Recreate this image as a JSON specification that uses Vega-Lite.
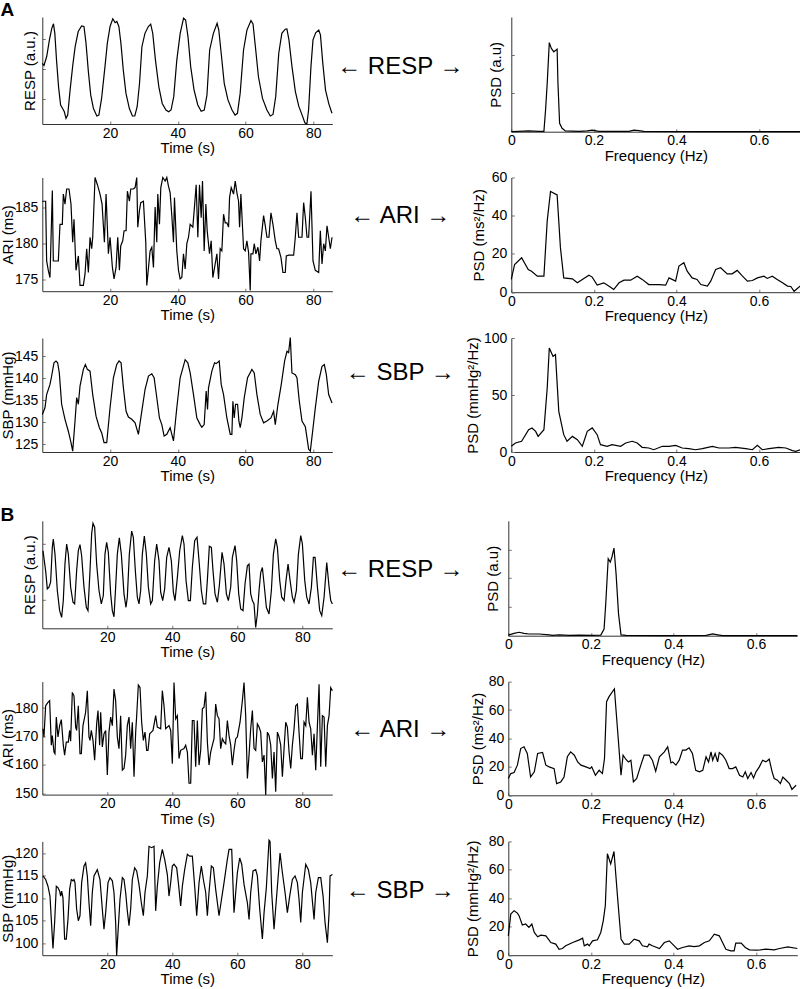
{
"$schema": "https://vega.github.io/schema/vega-lite/v6.json",
"autosize": {"type": "none"},
"padding": {"left": 42.3, "top": 17, "right": 757.7, "bottom": 972},
"config": {
 "view": {"stroke": null},
 "font": "Liberation Sans",
 "axis": {"grid": false, "domainColor": "#333", "domainWidth": 1, "tickColor": "#777", "tickSize": -3, "tickWidth": 1, "labelFontSize": 14, "labelColor": "#000", "labelFont": "Liberation Sans", "titleFont": "Liberation Sans", "titleFontSize": 15, "titleFontWeight": "normal", "titleColor": "#000", "labelFlush": false, "labelOverlap": false},
 "axisX": {"labelPadding": 5, "titlePadding": 0.5},
 "axisY": {"labelPadding": 7.5, "titlePadding": 0},
 "line": {"color": "#000", "strokeWidth": 1.2, "clip": true},
 "text": {"font": "Liberation Sans", "color": "#000"},
 "title": {"font": "Liberation Sans", "fontSize": 19, "fontWeight": "bold", "anchor": "start", "offset": -4, "color": "#000"}
},
"datasets": {
"a_resp": [{"t":0,"v":0.19},{"t":0.5,"v":0.12},{"t":1.3,"v":0.42},{"t":2.1,"v":0.98},{"t":2.8,"v":1.37},{"t":3.3,"v":1.52},{"t":3.7,"v":1.2},{"t":4.2,"v":0.3},{"t":4.8,"v":-0.6},{"t":5.4,"v":-1.21},{"t":6.0,"v":-1.33},{"t":6.5,"v":-1.44},{"t":7.0,"v":-1.66},{"t":7.5,"v":-1.55},{"t":8.2,"v":-0.71},{"t":9.0,"v":0.13},{"t":9.7,"v":0.75},{"t":10.6,"v":1.26},{"t":11.6,"v":1.45},{"t":12.3,"v":1.43},{"t":12.9,"v":0.87},{"t":13.6,"v":-0.09},{"t":14.3,"v":-0.88},{"t":15.1,"v":-1.33},{"t":16.1,"v":-1.58},{"t":16.7,"v":-1.55},{"t":17.5,"v":-0.99},{"t":18.5,"v":0.08},{"t":19.2,"v":0.87},{"t":20.0,"v":1.43},{"t":20.8,"v":1.69},{"t":21.5,"v":1.56},{"t":22.0,"v":1.6},{"t":22.6,"v":1.43},{"t":23.2,"v":0.87},{"t":23.9,"v":-0.03},{"t":24.7,"v":-0.82},{"t":25.7,"v":-1.33},{"t":26.6,"v":-1.58},{"t":27.3,"v":-1.58},{"t":28.0,"v":-1.27},{"t":28.7,"v":-0.48},{"t":29.4,"v":0.75},{"t":30.3,"v":1.2},{"t":31.3,"v":1.43},{"t":32.0,"v":1.51},{"t":32.6,"v":1.2},{"t":33.4,"v":0.3},{"t":34.4,"v":-0.6},{"t":35.4,"v":-1.16},{"t":36.5,"v":-1.38},{"t":37.3,"v":-1.44},{"t":38.0,"v":-1.38},{"t":38.8,"v":-0.93},{"t":39.7,"v":0.3},{"t":40.7,"v":1.2},{"t":41.7,"v":1.71},{"t":42.3,"v":1.65},{"t":43.0,"v":1.09},{"t":43.8,"v":0.08},{"t":44.8,"v":-0.71},{"t":45.9,"v":-1.21},{"t":46.9,"v":-1.42},{"t":47.8,"v":-1.38},{"t":48.6,"v":-0.88},{"t":49.4,"v":0.64},{"t":50.5,"v":1.2},{"t":51.6,"v":1.54},{"t":52.1,"v":1.31},{"t":52.8,"v":0.53},{"t":53.7,"v":-0.48},{"t":54.8,"v":-1.04},{"t":56.0,"v":-1.38},{"t":56.9,"v":-1.55},{"t":57.6,"v":-1.49},{"t":58.4,"v":-0.82},{"t":59.4,"v":0.64},{"t":60.4,"v":1.31},{"t":61.6,"v":1.63},{"t":62.2,"v":1.52},{"t":62.9,"v":0.75},{"t":63.8,"v":-0.26},{"t":65.0,"v":-0.99},{"t":66.3,"v":-1.38},{"t":67.3,"v":-1.58},{"t":68.1,"v":-1.53},{"t":68.9,"v":-0.93},{"t":69.8,"v":0.53},{"t":70.7,"v":1.2},{"t":71.7,"v":1.34},{"t":72.2,"v":1.35},{"t":72.8,"v":0.98},{"t":73.7,"v":0.08},{"t":74.7,"v":-0.76},{"t":75.7,"v":-1.25},{"t":76.7,"v":-1.55},{"t":77.5,"v":-1.81},{"t":78.1,"v":-1.85},{"t":78.6,"v":-1.38},{"t":79.3,"v":0.08},{"t":79.9,"v":0.98},{"t":80.7,"v":1.22},{"t":81.6,"v":1.31},{"t":82.1,"v":1.15},{"t":82.8,"v":0.19},{"t":83.6,"v":-0.71},{"t":84.6,"v":-1.18},{"t":85.5,"v":-1.49}],
"a_ari": [{"t":0,"v":185.9},{"t":0.99,"v":185.9},{"t":1.28,"v":177.6},{"t":1.77,"v":176.3},{"t":2.27,"v":175.3},{"t":2.96,"v":187.4},{"t":3.25,"v":177.6},{"t":4.73,"v":177.6},{"t":5.22,"v":182.7},{"t":5.91,"v":182.7},{"t":6.21,"v":186.9},{"t":6.7,"v":185.5},{"t":7.19,"v":187.6},{"t":7.88,"v":187.6},{"t":8.47,"v":185.5},{"t":8.97,"v":180.2},{"t":9.36,"v":183.4},{"t":9.95,"v":176.3},{"t":10.64,"v":178.3},{"t":11.13,"v":174.2},{"t":12.12,"v":174.2},{"t":12.61,"v":175.8},{"t":13.1,"v":179.3},{"t":13.6,"v":176.0},{"t":14.09,"v":180.9},{"t":14.58,"v":179.3},{"t":14.88,"v":180.9},{"t":15.57,"v":189.2},{"t":16.26,"v":188.2},{"t":17.04,"v":186.9},{"t":17.64,"v":185.5},{"t":18.33,"v":180.2},{"t":18.82,"v":186.9},{"t":19.51,"v":178.6},{"t":20.0,"v":180.9},{"t":20.69,"v":176.7},{"t":21.18,"v":175.1},{"t":21.77,"v":176.7},{"t":22.27,"v":180.9},{"t":22.76,"v":176.3},{"t":23.15,"v":179.7},{"t":23.74,"v":180.4},{"t":24.14,"v":181.8},{"t":24.73,"v":181.8},{"t":25.12,"v":187.3},{"t":25.71,"v":185.9},{"t":26.11,"v":187.6},{"t":26.9,"v":187.6},{"t":27.39,"v":187.8},{"t":27.88,"v":189.2},{"t":28.18,"v":182.3},{"t":28.67,"v":184.6},{"t":29.06,"v":185.7},{"t":29.85,"v":185.9},{"t":30.54,"v":180.2},{"t":30.84,"v":174.2},{"t":31.82,"v":179.0},{"t":32.32,"v":179.5},{"t":32.81,"v":176.7},{"t":33.3,"v":185.1},{"t":33.79,"v":180.2},{"t":34.09,"v":186.9},{"t":34.58,"v":182.7},{"t":34.98,"v":187.8},{"t":35.57,"v":189.2},{"t":36.26,"v":188.7},{"t":36.75,"v":189.2},{"t":37.24,"v":188.0},{"t":37.73,"v":187.1},{"t":38.23,"v":183.9},{"t":38.72,"v":180.2},{"t":39.01,"v":186.4},{"t":39.7,"v":179.0},{"t":40.2,"v":176.3},{"t":40.69,"v":175.1},{"t":41.18,"v":175.3},{"t":41.67,"v":178.6},{"t":42.17,"v":176.5},{"t":42.66,"v":180.0},{"t":43.15,"v":180.9},{"t":43.65,"v":182.7},{"t":44.43,"v":182.3},{"t":44.83,"v":184.6},{"t":45.42,"v":188.2},{"t":45.91,"v":180.9},{"t":46.4,"v":188.2},{"t":46.9,"v":183.6},{"t":47.29,"v":188.7},{"t":47.78,"v":179.0},{"t":48.28,"v":185.5},{"t":48.67,"v":181.8},{"t":49.36,"v":178.6},{"t":49.85,"v":180.4},{"t":50.34,"v":175.3},{"t":51.03,"v":177.2},{"t":51.53,"v":178.6},{"t":52.02,"v":175.1},{"t":52.51,"v":179.3},{"t":53.0,"v":179.0},{"t":53.5,"v":184.1},{"t":53.99,"v":182.9},{"t":54.48,"v":182.9},{"t":54.98,"v":182.3},{"t":55.27,"v":186.4},{"t":55.76,"v":187.8},{"t":56.45,"v":186.9},{"t":56.95,"v":188.7},{"t":57.44,"v":187.1},{"t":57.93,"v":185.9},{"t":58.23,"v":182.3},{"t":58.62,"v":186.9},{"t":59.41,"v":179.3},{"t":59.9,"v":179.0},{"t":60.39,"v":180.4},{"t":60.89,"v":178.8},{"t":61.38,"v":173.5},{"t":61.58,"v":178.6},{"t":62.17,"v":178.6},{"t":62.56,"v":180.0},{"t":63.05,"v":178.6},{"t":63.65,"v":179.5},{"t":64.14,"v":177.6},{"t":64.53,"v":180.4},{"t":65.32,"v":183.9},{"t":65.81,"v":182.5},{"t":66.31,"v":180.9},{"t":66.9,"v":180.9},{"t":67.49,"v":184.3},{"t":68.08,"v":182.7},{"t":68.77,"v":180.4},{"t":69.26,"v":179.3},{"t":69.75,"v":179.3},{"t":70.44,"v":178.1},{"t":71.03,"v":176.0},{"t":71.72,"v":176.0},{"t":72.02,"v":178.3},{"t":72.71,"v":178.4},{"t":74.19,"v":178.4},{"t":74.68,"v":180.9},{"t":75.17,"v":184.3},{"t":75.67,"v":180.9},{"t":76.65,"v":180.9},{"t":77.14,"v":185.7},{"t":77.64,"v":183.6},{"t":78.13,"v":180.9},{"t":78.62,"v":180.9},{"t":79.31,"v":187.3},{"t":79.9,"v":177.6},{"t":80.59,"v":176.3},{"t":81.58,"v":176.0},{"t":82.07,"v":181.8},{"t":82.56,"v":177.2},{"t":83.05,"v":180.0},{"t":83.55,"v":179.0},{"t":84.04,"v":182.5},{"t":84.53,"v":180.9},{"t":85.02,"v":179.3},{"t":85.52,"v":180.9}],
"a_sbp": [{"t":0,"v":131.8},{"t":0.79,"v":133.3},{"t":1.28,"v":136.3},{"t":2.27,"v":138.6},{"t":2.76,"v":140.5},{"t":3.45,"v":143.5},{"t":4.04,"v":143.9},{"t":4.53,"v":143.5},{"t":5.02,"v":141.2},{"t":5.71,"v":134.1},{"t":6.7,"v":130.7},{"t":7.68,"v":128.0},{"t":8.47,"v":125.4},{"t":8.97,"v":123.5},{"t":9.66,"v":130.3},{"t":10.15,"v":135.6},{"t":10.64,"v":134.1},{"t":11.13,"v":138.2},{"t":12.12,"v":142.0},{"t":12.71,"v":143.1},{"t":13.3,"v":142.0},{"t":14.09,"v":141.6},{"t":14.88,"v":136.3},{"t":15.86,"v":131.4},{"t":16.85,"v":128.8},{"t":17.54,"v":127.6},{"t":18.23,"v":125.4},{"t":19.01,"v":125.4},{"t":20.0,"v":133.3},{"t":20.99,"v":140.1},{"t":21.97,"v":143.1},{"t":22.66,"v":143.9},{"t":23.25,"v":143.5},{"t":23.94,"v":137.8},{"t":24.73,"v":132.5},{"t":25.42,"v":131.2},{"t":26.4,"v":130.7},{"t":27.39,"v":129.9},{"t":28.37,"v":127.3},{"t":29.36,"v":132.5},{"t":30.34,"v":137.5},{"t":31.33,"v":140.5},{"t":32.32,"v":141.0},{"t":33.0,"v":140.1},{"t":33.6,"v":136.7},{"t":34.58,"v":131.0},{"t":35.27,"v":129.5},{"t":35.96,"v":126.9},{"t":36.75,"v":127.3},{"t":37.73,"v":128.8},{"t":38.72,"v":125.8},{"t":39.7,"v":133.3},{"t":40.69,"v":140.1},{"t":42.17,"v":144.2},{"t":42.96,"v":143.5},{"t":43.65,"v":141.2},{"t":44.63,"v":136.3},{"t":45.62,"v":131.0},{"t":46.6,"v":129.5},{"t":47.09,"v":128.9},{"t":47.78,"v":129.5},{"t":48.37,"v":137.1},{"t":48.77,"v":132.9},{"t":49.06,"v":137.8},{"t":50.05,"v":141.6},{"t":50.84,"v":143.5},{"t":51.33,"v":143.3},{"t":52.22,"v":143.9},{"t":52.81,"v":138.6},{"t":53.5,"v":136.3},{"t":54.48,"v":131.0},{"t":55.47,"v":127.3},{"t":55.96,"v":127.3},{"t":56.26,"v":134.8},{"t":56.65,"v":131.0},{"t":57.04,"v":134.1},{"t":57.64,"v":134.1},{"t":58.03,"v":130.3},{"t":58.42,"v":128.8},{"t":58.92,"v":131.0},{"t":59.61,"v":135.6},{"t":60.59,"v":140.1},{"t":61.87,"v":142.0},{"t":62.56,"v":141.2},{"t":63.35,"v":136.3},{"t":64.33,"v":131.8},{"t":65.32,"v":129.9},{"t":66.31,"v":130.3},{"t":67.49,"v":131.0},{"t":68.28,"v":132.5},{"t":68.77,"v":129.5},{"t":69.56,"v":134.1},{"t":70.54,"v":138.6},{"t":71.53,"v":143.9},{"t":72.22,"v":146.1},{"t":72.71,"v":145.8},{"t":73.2,"v":149.2},{"t":73.69,"v":141.2},{"t":74.68,"v":140.8},{"t":75.17,"v":140.1},{"t":75.86,"v":134.8},{"t":76.65,"v":130.3},{"t":77.64,"v":129.0},{"t":78.13,"v":126.5},{"t":78.62,"v":123.9},{"t":79.11,"v":123.5},{"t":79.8,"v":128.0},{"t":80.59,"v":133.3},{"t":81.58,"v":139.3},{"t":82.56,"v":142.7},{"t":83.25,"v":143.1},{"t":83.84,"v":140.8},{"t":84.53,"v":136.3},{"t":85.52,"v":134.4}],
"a_resp_psd": [{"f":0,"p":0},{"f":0.018,"p":0.01},{"f":0.042,"p":0.02},{"f":0.067,"p":0.01},{"f":0.079,"p":0.01},{"f":0.083,"p":0.57},{"f":0.087,"p":1.27},{"f":0.092,"p":2.33},{"f":0.097,"p":2.18},{"f":0.103,"p":2.09},{"f":0.111,"p":2.16},{"f":0.113,"p":1.27},{"f":0.117,"p":0.22},{"f":0.123,"p":0.09},{"f":0.131,"p":0.02},{"f":0.164,"p":0.01},{"f":0.184,"p":0.02},{"f":0.196,"p":0.04},{"f":0.212,"p":0.01},{"f":0.285,"p":0.01},{"f":0.297,"p":0.04},{"f":0.309,"p":0.03},{"f":0.321,"p":0.01},{"f":0.446,"p":0},{"f":0.7,"p":0}],
"a_ari_psd": [{"f":0,"p":6.7},{"f":0.008,"p":14.5},{"f":0.025,"p":18.0},{"f":0.041,"p":11.9},{"f":0.049,"p":11.0},{"f":0.063,"p":8.4},{"f":0.079,"p":8.4},{"f":0.087,"p":37.3},{"f":0.095,"p":52.7},{"f":0.111,"p":50.9},{"f":0.119,"p":23.3},{"f":0.127,"p":7.5},{"f":0.148,"p":7.0},{"f":0.16,"p":4.9},{"f":0.172,"p":6.7},{"f":0.188,"p":8.9},{"f":0.196,"p":7.9},{"f":0.208,"p":3.7},{"f":0.224,"p":4.9},{"f":0.236,"p":3.2},{"f":0.248,"p":1.4},{"f":0.261,"p":4.9},{"f":0.273,"p":6.3},{"f":0.289,"p":6.3},{"f":0.305,"p":8.4},{"f":0.317,"p":6.7},{"f":0.333,"p":4.0},{"f":0.358,"p":4.0},{"f":0.374,"p":3.7},{"f":0.382,"p":7.5},{"f":0.398,"p":5.8},{"f":0.406,"p":13.7},{"f":0.418,"p":15.4},{"f":0.426,"p":11.0},{"f":0.438,"p":7.5},{"f":0.45,"p":6.7},{"f":0.459,"p":4.0},{"f":0.475,"p":3.2},{"f":0.483,"p":5.8},{"f":0.495,"p":11.9},{"f":0.507,"p":12.8},{"f":0.523,"p":9.6},{"f":0.535,"p":9.6},{"f":0.547,"p":11.4},{"f":0.56,"p":8.4},{"f":0.572,"p":5.8},{"f":0.584,"p":6.1},{"f":0.596,"p":7.5},{"f":0.612,"p":8.4},{"f":0.62,"p":7.2},{"f":0.632,"p":8.4},{"f":0.644,"p":6.7},{"f":0.657,"p":4.9},{"f":0.669,"p":3.2},{"f":0.677,"p":3.0},{"f":0.685,"p":0.5},{"f":0.7,"p":3.2}],
"a_sbp_psd": [{"f":0,"p":5.0},{"f":0.01,"p":7.9},{"f":0.025,"p":9.4},{"f":0.042,"p":19.6},{"f":0.05,"p":21.1},{"f":0.059,"p":18.1},{"f":0.065,"p":13.7},{"f":0.079,"p":19.6},{"f":0.087,"p":56.1},{"f":0.092,"p":91.2},{"f":0.101,"p":83.9},{"f":0.107,"p":85.4},{"f":0.115,"p":35.7},{"f":0.127,"p":15.2},{"f":0.135,"p":9.4},{"f":0.148,"p":13.7},{"f":0.16,"p":10.8},{"f":0.172,"p":5.0},{"f":0.184,"p":18.1},{"f":0.196,"p":21.1},{"f":0.208,"p":15.2},{"f":0.216,"p":6.4},{"f":0.232,"p":5.0},{"f":0.244,"p":6.4},{"f":0.265,"p":5.0},{"f":0.277,"p":7.9},{"f":0.293,"p":9.4},{"f":0.305,"p":7.9},{"f":0.317,"p":4.1},{"f":0.333,"p":3.5},{"f":0.345,"p":2.0},{"f":0.366,"p":5.0},{"f":0.382,"p":5.0},{"f":0.398,"p":5.8},{"f":0.414,"p":3.5},{"f":0.43,"p":2.9},{"f":0.446,"p":2.0},{"f":0.463,"p":2.9},{"f":0.487,"p":5.0},{"f":0.503,"p":3.5},{"f":0.527,"p":3.5},{"f":0.543,"p":4.1},{"f":0.568,"p":2.9},{"f":0.584,"p":2.0},{"f":0.596,"p":5.8},{"f":0.608,"p":2.0},{"f":0.624,"p":2.9},{"f":0.648,"p":4.1},{"f":0.665,"p":3.5},{"f":0.681,"p":1.2},{"f":0.689,"p":0.6},{"f":0.7,"p":2.0}],
"b_resp": [{"t":0.21,"v":0.88},{"t":1.03,"v":0.52},{"t":1.54,"v":0.2},{"t":2.05,"v":0.23},{"t":2.56,"v":0.32},{"t":3.08,"v":0.94},{"t":3.38,"v":1.09},{"t":3.9,"v":0.82},{"t":4.62,"v":0.17},{"t":5.33,"v":-0.19},{"t":5.95,"v":-0.31},{"t":6.46,"v":-0.01},{"t":6.97,"v":0.64},{"t":7.49,"v":1.0},{"t":8.0,"v":0.82},{"t":8.72,"v":0.23},{"t":9.44,"v":-0.04},{"t":9.95,"v":-0.07},{"t":10.56,"v":0.52},{"t":11.08,"v":0.88},{"t":11.59,"v":0.99},{"t":12.1,"v":0.79},{"t":12.82,"v":0.23},{"t":13.54,"v":-0.13},{"t":14.05,"v":-0.19},{"t":14.67,"v":0.52},{"t":15.18,"v":1.18},{"t":15.59,"v":1.37},{"t":16.1,"v":1.3},{"t":16.72,"v":0.64},{"t":17.44,"v":0.17},{"t":18.15,"v":-0.07},{"t":18.77,"v":0.08},{"t":19.28,"v":0.82},{"t":19.79,"v":1.03},{"t":20.31,"v":0.85},{"t":21.03,"v":0.11},{"t":21.54,"v":-0.19},{"t":22.05,"v":-0.3},{"t":22.56,"v":0.23},{"t":23.08,"v":0.82},{"t":23.69,"v":1.11},{"t":24.31,"v":0.82},{"t":25.13,"v":0.11},{"t":25.74,"v":-0.13},{"t":26.15,"v":0.05},{"t":26.77,"v":0.82},{"t":27.49,"v":1.23},{"t":28.0,"v":1.12},{"t":28.62,"v":0.52},{"t":29.23,"v":0.05},{"t":29.74,"v":-0.07},{"t":30.26,"v":0.17},{"t":30.77,"v":0.82},{"t":31.38,"v":1.14},{"t":32.0,"v":0.82},{"t":32.62,"v":0.23},{"t":33.33,"v":-0.07},{"t":33.85,"v":-0.01},{"t":34.56,"v":0.7},{"t":35.18,"v":1.0},{"t":35.9,"v":0.7},{"t":36.41,"v":0.14},{"t":37.03,"v":-0.01},{"t":37.64,"v":0.2},{"t":38.26,"v":0.76},{"t":38.97,"v":0.94},{"t":39.69,"v":0.7},{"t":40.31,"v":0.14},{"t":40.82,"v":-0.01},{"t":41.54,"v":0.4},{"t":42.26,"v":0.88},{"t":43.08,"v":1.15},{"t":43.59,"v":1.0},{"t":44.21,"v":0.35},{"t":44.92,"v":-0.01},{"t":45.54,"v":-0.01},{"t":46.15,"v":0.58},{"t":46.87,"v":1.06},{"t":47.59,"v":1.12},{"t":48.21,"v":0.7},{"t":48.92,"v":0.17},{"t":49.54,"v":-0.07},{"t":50.26,"v":-0.07},{"t":50.77,"v":0.35},{"t":51.38,"v":0.96},{"t":52.0,"v":0.94},{"t":52.51,"v":0.52},{"t":53.13,"v":0.11},{"t":53.85,"v":-0.04},{"t":54.46,"v":0.26},{"t":55.28,"v":0.85},{"t":55.9,"v":0.64},{"t":56.62,"v":0.11},{"t":57.23,"v":-0.01},{"t":57.95,"v":0.23},{"t":58.46,"v":0.76},{"t":59.28,"v":0.97},{"t":59.79,"v":0.7},{"t":60.41,"v":0.11},{"t":61.03,"v":-0.16},{"t":61.74,"v":-0.19},{"t":62.36,"v":0.29},{"t":63.08,"v":0.61},{"t":63.59,"v":0.64},{"t":64.1,"v":0.11},{"t":64.62,"v":-0.01},{"t":65.13,"v":-0.07},{"t":65.64,"v":-0.49},{"t":66.15,"v":-0.25},{"t":66.67,"v":0.17},{"t":67.18,"v":0.49},{"t":67.69,"v":0.58},{"t":68.21,"v":0.29},{"t":68.92,"v":-0.13},{"t":69.74,"v":-0.25},{"t":70.46,"v":0.17},{"t":71.08,"v":0.82},{"t":71.79,"v":1.09},{"t":72.31,"v":0.94},{"t":73.03,"v":0.35},{"t":73.64,"v":0.05},{"t":74.36,"v":-0.01},{"t":74.97,"v":0.35},{"t":75.59,"v":0.64},{"t":76.21,"v":0.35},{"t":76.92,"v":0.05},{"t":77.44,"v":-0.04},{"t":78.15,"v":0.17},{"t":78.77,"v":0.82},{"t":79.49,"v":1.15},{"t":80.0,"v":1.0},{"t":80.72,"v":0.35},{"t":81.33,"v":0.05},{"t":82.05,"v":-0.07},{"t":82.77,"v":0.23},{"t":83.38,"v":0.76},{"t":83.9,"v":0.76},{"t":84.62,"v":0.23},{"t":85.33,"v":-0.19},{"t":85.95,"v":-0.28},{"t":86.67,"v":0.05},{"t":87.49,"v":0.67},{"t":88.21,"v":0.23},{"t":88.72,"v":-0.01},{"t":89.23,"v":-0.07}],
"b_ari": [{"t":0.21,"v":172.7},{"t":0.51,"v":169.8},{"t":1.03,"v":180.8},{"t":1.74,"v":182.0},{"t":2.26,"v":182.6},{"t":2.77,"v":166.9},{"t":3.08,"v":170.3},{"t":3.59,"v":164.5},{"t":3.9,"v":163.9},{"t":4.31,"v":176.8},{"t":4.82,"v":169.8},{"t":5.33,"v":173.8},{"t":5.85,"v":175.9},{"t":6.46,"v":166.9},{"t":6.87,"v":163.4},{"t":7.38,"v":168.0},{"t":8.0,"v":168.0},{"t":8.41,"v":172.1},{"t":8.72,"v":168.3},{"t":9.23,"v":185.5},{"t":9.74,"v":184.3},{"t":10.26,"v":173.3},{"t":10.56,"v":172.1},{"t":11.08,"v":180.8},{"t":11.59,"v":163.9},{"t":12.0,"v":163.9},{"t":12.51,"v":173.8},{"t":13.33,"v":178.5},{"t":13.85,"v":186.1},{"t":14.36,"v":169.8},{"t":14.67,"v":168.6},{"t":15.08,"v":172.1},{"t":15.59,"v":168.6},{"t":16.1,"v":161.6},{"t":16.72,"v":174.4},{"t":17.13,"v":179.1},{"t":17.64,"v":166.9},{"t":17.95,"v":178.5},{"t":18.46,"v":166.3},{"t":18.97,"v":170.9},{"t":19.49,"v":172.1},{"t":20.0,"v":156.4},{"t":20.51,"v":171.5},{"t":21.03,"v":176.8},{"t":21.54,"v":173.8},{"t":22.05,"v":186.7},{"t":22.56,"v":182.6},{"t":23.08,"v":169.8},{"t":23.59,"v":165.7},{"t":24.1,"v":177.3},{"t":24.62,"v":158.1},{"t":25.13,"v":158.7},{"t":25.64,"v":163.4},{"t":26.15,"v":173.8},{"t":26.67,"v":176.8},{"t":27.18,"v":165.7},{"t":27.69,"v":175.0},{"t":28.21,"v":155.8},{"t":28.72,"v":171.5},{"t":29.03,"v":177.3},{"t":29.54,"v":188.1},{"t":30.05,"v":187.2},{"t":30.56,"v":175.0},{"t":31.08,"v":168.6},{"t":31.59,"v":171.5},{"t":32.1,"v":165.1},{"t":32.51,"v":165.1},{"t":33.03,"v":170.9},{"t":33.54,"v":171.5},{"t":34.05,"v":172.1},{"t":34.87,"v":177.3},{"t":35.38,"v":173.3},{"t":36.41,"v":172.7},{"t":36.92,"v":186.1},{"t":37.44,"v":180.8},{"t":37.95,"v":172.7},{"t":38.97,"v":173.8},{"t":39.49,"v":172.1},{"t":40.0,"v":160.4},{"t":40.51,"v":189.0},{"t":41.03,"v":176.2},{"t":41.54,"v":177.3},{"t":42.05,"v":162.2},{"t":42.56,"v":165.1},{"t":43.59,"v":165.7},{"t":44.1,"v":166.9},{"t":44.62,"v":164.5},{"t":45.13,"v":153.5},{"t":45.64,"v":153.5},{"t":46.15,"v":175.6},{"t":46.67,"v":175.6},{"t":47.18,"v":159.3},{"t":47.69,"v":175.6},{"t":48.21,"v":159.9},{"t":48.72,"v":165.1},{"t":49.23,"v":179.7},{"t":49.74,"v":180.3},{"t":50.26,"v":185.7},{"t":50.77,"v":168.0},{"t":51.28,"v":159.9},{"t":51.79,"v":164.5},{"t":52.31,"v":166.9},{"t":52.82,"v":169.2},{"t":53.33,"v":181.4},{"t":53.85,"v":177.3},{"t":54.36,"v":176.2},{"t":54.87,"v":165.7},{"t":55.38,"v":169.2},{"t":55.9,"v":168.0},{"t":56.41,"v":167.4},{"t":56.92,"v":175.6},{"t":57.44,"v":170.3},{"t":57.95,"v":166.9},{"t":58.46,"v":159.9},{"t":58.97,"v":165.1},{"t":59.49,"v":169.2},{"t":60.0,"v":169.8},{"t":60.82,"v":175.0},{"t":61.54,"v":182.6},{"t":62.05,"v":189.0},{"t":62.56,"v":177.3},{"t":63.08,"v":155.2},{"t":63.59,"v":163.4},{"t":64.1,"v":172.7},{"t":64.62,"v":179.1},{"t":65.13,"v":165.7},{"t":65.64,"v":165.1},{"t":66.15,"v":174.4},{"t":66.67,"v":173.3},{"t":67.18,"v":171.5},{"t":67.69,"v":161.0},{"t":68.21,"v":163.4},{"t":68.72,"v":149.4},{"t":69.23,"v":171.5},{"t":69.74,"v":170.3},{"t":70.26,"v":166.9},{"t":70.77,"v":155.2},{"t":71.28,"v":164.5},{"t":71.79,"v":150.5},{"t":72.31,"v":171.5},{"t":72.82,"v":169.8},{"t":73.33,"v":166.9},{"t":73.85,"v":155.8},{"t":74.36,"v":165.7},{"t":74.87,"v":175.0},{"t":75.38,"v":173.3},{"t":75.9,"v":164.5},{"t":76.41,"v":158.7},{"t":76.92,"v":166.9},{"t":77.44,"v":172.7},{"t":77.95,"v":180.8},{"t":78.46,"v":181.4},{"t":78.97,"v":171.5},{"t":79.49,"v":162.2},{"t":80.0,"v":162.2},{"t":80.51,"v":175.0},{"t":81.03,"v":173.8},{"t":81.54,"v":183.8},{"t":82.05,"v":175.0},{"t":82.56,"v":172.7},{"t":83.08,"v":163.4},{"t":83.59,"v":170.9},{"t":84.1,"v":158.1},{"t":84.62,"v":173.8},{"t":85.13,"v":188.4},{"t":85.64,"v":159.3},{"t":86.15,"v":177.3},{"t":86.67,"v":176.8},{"t":87.18,"v":159.3},{"t":87.69,"v":173.8},{"t":88.21,"v":177.3},{"t":88.72,"v":187.2},{"t":89.23,"v":186.1}],
"b_sbp": [{"t":0.21,"v":115.0},{"t":1.03,"v":114.2},{"t":1.74,"v":112.7},{"t":2.36,"v":110.5},{"t":2.77,"v":105.3},{"t":3.28,"v":98.8},{"t":3.79,"v":104.6},{"t":4.31,"v":112.7},{"t":4.82,"v":112.4},{"t":5.33,"v":111.6},{"t":5.64,"v":110.5},{"t":5.95,"v":111.6},{"t":6.36,"v":110.1},{"t":6.87,"v":100.9},{"t":7.38,"v":100.9},{"t":7.9,"v":105.3},{"t":8.41,"v":112.0},{"t":8.92,"v":114.2},{"t":9.44,"v":113.9},{"t":9.74,"v":114.2},{"t":10.05,"v":113.5},{"t":10.56,"v":107.6},{"t":11.08,"v":105.0},{"t":11.59,"v":106.1},{"t":12.1,"v":113.5},{"t":12.82,"v":117.2},{"t":13.33,"v":117.9},{"t":13.85,"v":115.0},{"t":14.36,"v":109.0},{"t":14.87,"v":103.9},{"t":15.38,"v":111.3},{"t":15.9,"v":115.0},{"t":16.92,"v":116.4},{"t":17.74,"v":114.2},{"t":18.46,"v":107.6},{"t":18.97,"v":103.1},{"t":19.49,"v":106.8},{"t":20.21,"v":113.5},{"t":20.82,"v":114.6},{"t":21.54,"v":113.9},{"t":22.05,"v":111.3},{"t":22.56,"v":104.6},{"t":22.87,"v":97.2},{"t":23.28,"v":102.4},{"t":23.9,"v":109.8},{"t":24.62,"v":114.6},{"t":25.13,"v":114.2},{"t":25.64,"v":111.3},{"t":26.15,"v":107.2},{"t":26.67,"v":103.9},{"t":27.18,"v":107.6},{"t":27.69,"v":114.2},{"t":28.41,"v":116.8},{"t":29.03,"v":116.1},{"t":29.74,"v":113.1},{"t":30.46,"v":109.0},{"t":31.08,"v":106.1},{"t":31.59,"v":111.3},{"t":32.31,"v":115.0},{"t":32.82,"v":121.6},{"t":33.64,"v":121.3},{"t":34.36,"v":121.6},{"t":34.87,"v":107.2},{"t":35.38,"v":112.7},{"t":36.1,"v":117.9},{"t":36.92,"v":120.9},{"t":37.64,"v":118.7},{"t":38.46,"v":115.3},{"t":38.97,"v":110.5},{"t":39.49,"v":113.5},{"t":40.0,"v":117.2},{"t":40.51,"v":117.6},{"t":41.33,"v":116.8},{"t":41.85,"v":113.5},{"t":42.56,"v":108.3},{"t":43.08,"v":112.7},{"t":43.79,"v":116.4},{"t":44.62,"v":119.8},{"t":45.33,"v":119.4},{"t":46.15,"v":119.4},{"t":46.87,"v":112.7},{"t":47.49,"v":106.1},{"t":48.21,"v":113.5},{"t":48.92,"v":117.2},{"t":49.54,"v":114.2},{"t":50.26,"v":111.3},{"t":50.77,"v":106.1},{"t":51.28,"v":111.3},{"t":52.0,"v":117.2},{"t":52.62,"v":116.8},{"t":53.33,"v":112.0},{"t":54.36,"v":106.1},{"t":55.9,"v":113.5},{"t":56.92,"v":118.7},{"t":57.44,"v":120.9},{"t":58.26,"v":120.9},{"t":58.97,"v":106.8},{"t":59.49,"v":111.3},{"t":60.0,"v":115.7},{"t":60.72,"v":119.0},{"t":61.33,"v":117.6},{"t":62.05,"v":113.1},{"t":63.08,"v":109.0},{"t":63.59,"v":105.3},{"t":64.1,"v":111.3},{"t":64.82,"v":116.1},{"t":65.64,"v":116.4},{"t":66.15,"v":115.0},{"t":66.87,"v":107.6},{"t":67.69,"v":100.9},{"t":68.21,"v":106.8},{"t":68.92,"v":112.4},{"t":69.74,"v":123.0},{"t":70.05,"v":122.7},{"t":70.56,"v":111.3},{"t":71.28,"v":103.1},{"t":72.0,"v":109.8},{"t":73.13,"v":120.1},{"t":73.85,"v":115.7},{"t":74.67,"v":111.3},{"t":75.38,"v":106.8},{"t":76.1,"v":110.5},{"t":76.92,"v":114.2},{"t":77.74,"v":115.0},{"t":78.46,"v":113.5},{"t":78.97,"v":109.8},{"t":79.49,"v":104.6},{"t":80.0,"v":111.3},{"t":81.03,"v":117.6},{"t":81.85,"v":116.4},{"t":82.56,"v":113.5},{"t":83.59,"v":105.3},{"t":84.1,"v":111.3},{"t":84.92,"v":114.6},{"t":85.64,"v":114.6},{"t":86.36,"v":110.5},{"t":86.97,"v":104.6},{"t":87.69,"v":100.1},{"t":88.21,"v":106.8},{"t":88.51,"v":115.0},{"t":89.23,"v":115.3}],
"b_resp_psd": [{"f":0,"p":0.02},{"f":0.014,"p":0.08},{"f":0.026,"p":0.12},{"f":0.038,"p":0.08},{"f":0.05,"p":0.06},{"f":0.075,"p":0.06},{"f":0.099,"p":0.03},{"f":0.107,"p":0.01},{"f":0.123,"p":0.03},{"f":0.147,"p":0.01},{"f":0.172,"p":0.02},{"f":0.204,"p":0.01},{"f":0.224,"p":0.02},{"f":0.232,"p":0.23},{"f":0.236,"p":1.11},{"f":0.242,"p":2.68},{"f":0.247,"p":2.56},{"f":0.251,"p":2.74},{"f":0.256,"p":3.05},{"f":0.261,"p":2.16},{"f":0.267,"p":0.76},{"f":0.273,"p":0.03},{"f":0.285,"p":0.01},{"f":0.366,"p":0},{"f":0.479,"p":0.01},{"f":0.495,"p":0.06},{"f":0.507,"p":0.03},{"f":0.519,"p":0},{"f":0.7,"p":0}],
"b_ari_psd": [{"f":0,"p":11.8},{"f":0.006,"p":15.3},{"f":0.014,"p":16.0},{"f":0.022,"p":21.2},{"f":0.03,"p":32.9},{"f":0.038,"p":34.1},{"f":0.046,"p":29.4},{"f":0.054,"p":12.9},{"f":0.063,"p":16.5},{"f":0.071,"p":29.4},{"f":0.083,"p":30.1},{"f":0.091,"p":21.2},{"f":0.099,"p":20.0},{"f":0.111,"p":18.8},{"f":0.117,"p":8.2},{"f":0.127,"p":9.4},{"f":0.135,"p":12.9},{"f":0.143,"p":27.1},{"f":0.151,"p":30.6},{"f":0.16,"p":28.2},{"f":0.168,"p":23.5},{"f":0.176,"p":21.2},{"f":0.188,"p":20.0},{"f":0.198,"p":18.8},{"f":0.202,"p":20.0},{"f":0.211,"p":14.1},{"f":0.22,"p":17.6},{"f":0.228,"p":15.3},{"f":0.233,"p":25.9},{"f":0.238,"p":65.9},{"f":0.244,"p":69.4},{"f":0.257,"p":74.8},{"f":0.265,"p":44.7},{"f":0.273,"p":14.1},{"f":0.278,"p":28.2},{"f":0.285,"p":25.2},{"f":0.291,"p":23.5},{"f":0.297,"p":24.7},{"f":0.303,"p":9.4},{"f":0.311,"p":11.8},{"f":0.321,"p":21.2},{"f":0.329,"p":28.2},{"f":0.341,"p":28.2},{"f":0.349,"p":24.7},{"f":0.357,"p":16.9},{"f":0.366,"p":27.1},{"f":0.378,"p":30.6},{"f":0.386,"p":34.1},{"f":0.394,"p":22.8},{"f":0.398,"p":23.5},{"f":0.406,"p":21.2},{"f":0.414,"p":24.7},{"f":0.422,"p":31.8},{"f":0.43,"p":31.8},{"f":0.438,"p":33.4},{"f":0.446,"p":29.4},{"f":0.454,"p":17.6},{"f":0.463,"p":16.5},{"f":0.471,"p":17.6},{"f":0.479,"p":27.1},{"f":0.485,"p":23.5},{"f":0.491,"p":30.6},{"f":0.495,"p":24.7},{"f":0.501,"p":29.4},{"f":0.507,"p":23.5},{"f":0.511,"p":30.1},{"f":0.519,"p":28.2},{"f":0.527,"p":24.7},{"f":0.535,"p":18.8},{"f":0.543,"p":18.8},{"f":0.551,"p":20.0},{"f":0.56,"p":14.1},{"f":0.568,"p":12.9},{"f":0.574,"p":16.5},{"f":0.58,"p":11.8},{"f":0.588,"p":16.0},{"f":0.594,"p":12.2},{"f":0.6,"p":16.5},{"f":0.608,"p":20.0},{"f":0.616,"p":24.7},{"f":0.624,"p":23.5},{"f":0.632,"p":25.4},{"f":0.639,"p":16.5},{"f":0.644,"p":11.8},{"f":0.652,"p":10.6},{"f":0.659,"p":8.2},{"f":0.665,"p":12.9},{"f":0.673,"p":10.6},{"f":0.681,"p":8.2},{"f":0.687,"p":4.2},{"f":0.697,"p":7.1}],
"b_sbp_psd": [{"f":0,"p":13.6},{"f":0.006,"p":28.9},{"f":0.014,"p":31.3},{"f":0.022,"p":29.6},{"f":0.026,"p":27.8},{"f":0.034,"p":21.2},{"f":0.042,"p":21.9},{"f":0.05,"p":19.5},{"f":0.057,"p":21.9},{"f":0.063,"p":16.0},{"f":0.071,"p":12.9},{"f":0.079,"p":14.1},{"f":0.091,"p":13.6},{"f":0.097,"p":11.3},{"f":0.103,"p":8.9},{"f":0.115,"p":7.8},{"f":0.123,"p":4.2},{"f":0.131,"p":4.7},{"f":0.139,"p":6.6},{"f":0.156,"p":8.9},{"f":0.172,"p":10.8},{"f":0.18,"p":12.0},{"f":0.184,"p":6.6},{"f":0.192,"p":7.8},{"f":0.196,"p":6.6},{"f":0.204,"p":10.1},{"f":0.216,"p":10.8},{"f":0.224,"p":16.0},{"f":0.23,"p":24.2},{"f":0.235,"p":34.8},{"f":0.24,"p":71.3},{"f":0.248,"p":64.2},{"f":0.256,"p":72.9},{"f":0.265,"p":39.5},{"f":0.273,"p":11.3},{"f":0.281,"p":7.8},{"f":0.293,"p":7.8},{"f":0.305,"p":11.3},{"f":0.317,"p":10.1},{"f":0.325,"p":6.6},{"f":0.337,"p":5.9},{"f":0.341,"p":7.8},{"f":0.349,"p":6.6},{"f":0.366,"p":4.7},{"f":0.378,"p":8.9},{"f":0.39,"p":10.1},{"f":0.402,"p":6.6},{"f":0.41,"p":4.2},{"f":0.422,"p":5.4},{"f":0.438,"p":6.6},{"f":0.45,"p":6.1},{"f":0.463,"p":6.6},{"f":0.475,"p":8.9},{"f":0.487,"p":10.1},{"f":0.499,"p":14.8},{"f":0.511,"p":13.6},{"f":0.519,"p":8.9},{"f":0.527,"p":4.2},{"f":0.539,"p":3.1},{"f":0.547,"p":3.1},{"f":0.551,"p":8.5},{"f":0.564,"p":8.5},{"f":0.574,"p":5.4},{"f":0.584,"p":3.8},{"f":0.604,"p":3.5},{"f":0.624,"p":4.2},{"f":0.644,"p":3.8},{"f":0.657,"p":4.7},{"f":0.677,"p":5.9},{"f":0.7,"p":4.7}]
},
"spacing": 21.8,
"vconcat": [
{
 "title": {"text": "A", "frame": "bounds"},
 "columns": 3, "align": "each", "spacing": {"row": 6.5, "column": 1},
 "concat": [
  {"width": 290, "height": 107, "data": {"name": "a_resp"}, "mark": "line", "encoding": {
    "x": {"field": "t", "type": "quantitative", "scale": {"domain": [0, 85.6], "nice": false, "zero": false}, "axis": {"values": [20, 40, 60, 80], "format": "d", "title": "Time (s)"}},
    "y": {"field": "v", "type": "quantitative", "scale": {"domain": [-1.85, 1.75], "nice": false, "zero": false}, "axis": {"values": [-1, 0, 1], "labels": false, "title": "RESP (a.u.)", "titlePadding": 4.5}}}},
  {"width": 126, "height": 100, "data": {"values": [{"label": "← RESP →"}]}, "mark": {"type": "text", "fontSize": 24}, "encoding": {"text": {"field": "label"}}},
  {"width": 289, "height": 114.7, "data": {"name": "a_resp_psd"}, "mark": "line", "encoding": {
    "x": {"field": "f", "type": "quantitative", "scale": {"domain": [0, 0.7], "nice": false}, "axis": {"values": [0, 0.2, 0.4, 0.6], "format": "~g", "title": "Frequency (Hz)"}},
    "y": {"field": "p", "type": "quantitative", "scale": {"domain": [0, 3], "nice": false}, "axis": {"values": [1, 2], "labels": false, "title": "PSD (a.u)", "titlePadding": 7.5}}}},
  {"width": 290, "height": 113.7, "data": {"name": "a_ari"}, "mark": "line", "encoding": {
    "x": {"field": "t", "type": "quantitative", "scale": {"domain": [0, 85.6], "nice": false, "zero": false}, "axis": {"values": [20, 40, 60, 80], "format": "d", "title": "Time (s)"}},
    "y": {"field": "v", "type": "quantitative", "scale": {"domain": [173.4, 189.2], "nice": false, "zero": false}, "axis": {"values": [175, 180, 185], "format": "d", "title": "ARI (ms)", "titlePadding": -1.5}}}},
  {"width": 126, "height": 77, "data": {"values": [{"label": "← ARI →"}]}, "mark": {"type": "text", "fontSize": 24}, "encoding": {"text": {"field": "label"}}},
  {"width": 289, "height": 114.7, "data": {"name": "a_ari_psd"}, "mark": "line", "encoding": {
    "x": {"field": "f", "type": "quantitative", "scale": {"domain": [0, 0.7], "nice": false}, "axis": {"values": [0, 0.2, 0.4, 0.6], "format": "~g", "title": "Frequency (Hz)"}},
    "y": {"field": "p", "type": "quantitative", "scale": {"domain": [0, 60], "nice": false}, "axis": {"values": [0, 20, 40, 60], "format": "d", "title": "PSD (ms²/Hz)", "titlePadding": 4.8}}}},
  {"width": 290, "height": 114, "data": {"name": "a_sbp"}, "mark": "line", "encoding": {
    "x": {"field": "t", "type": "quantitative", "scale": {"domain": [0, 85.6], "nice": false, "zero": false}, "axis": {"values": [20, 40, 60, 80], "format": "d", "title": "Time (s)"}},
    "y": {"field": "v", "type": "quantitative", "scale": {"domain": [123.3, 149.1], "nice": false, "zero": false}, "axis": {"values": [125, 130, 135, 140, 145], "format": "d", "title": "SBP (mmHg)", "titlePadding": -1}}}},
  {"width": 126, "height": 69, "data": {"values": [{"label": "← SBP →"}]}, "mark": {"type": "text", "fontSize": 24}, "encoding": {"text": {"field": "label"}}},
  {"width": 289, "height": 114, "data": {"name": "a_sbp_psd"}, "mark": "line", "encoding": {
    "x": {"field": "f", "type": "quantitative", "scale": {"domain": [0, 0.7], "nice": false}, "axis": {"values": [0, 0.2, 0.4, 0.6], "format": "~g", "title": "Frequency (Hz)"}},
    "y": {"field": "p", "type": "quantitative", "scale": {"domain": [0, 100], "nice": false}, "axis": {"values": [0, 50, 100], "format": "d", "title": "PSD (mmHg²/Hz)", "titlePadding": 2.5}}}}
 ]
},
{
 "title": {"text": "B", "frame": "bounds"},
 "columns": 3, "align": "each", "spacing": {"row": 6.8, "column": 1},
 "concat": [
  {"width": 290, "height": 107.5, "data": {"name": "b_resp"}, "mark": "line", "encoding": {
    "x": {"field": "t", "type": "quantitative", "scale": {"domain": [0, 89.2], "nice": false, "zero": false}, "axis": {"values": [20, 40, 60, 80], "format": "d", "title": "Time (s)"}},
    "y": {"field": "v", "type": "quantitative", "scale": {"domain": [-0.505, 1.414], "nice": false, "zero": false}, "axis": {"values": [0, 1], "labels": false, "title": "RESP (a.u.)", "titlePadding": 4.5}}}},
  {"width": 126, "height": 98, "data": {"values": [{"label": "← RESP →"}]}, "mark": {"type": "text", "fontSize": 24}, "encoding": {"text": {"field": "label"}}},
  {"width": 289, "height": 114.9, "data": {"name": "b_resp_psd"}, "mark": "line", "encoding": {
    "x": {"field": "f", "type": "quantitative", "scale": {"domain": [0, 0.7], "nice": false}, "axis": {"values": [0, 0.2, 0.4, 0.6], "format": "~g", "title": "Frequency (Hz)"}},
    "y": {"field": "p", "type": "quantitative", "scale": {"domain": [0, 4], "nice": false}, "axis": {"values": [1, 2, 3], "labels": false, "title": "PSD (a.u)", "titlePadding": 7.5}}}},
  {"width": 290, "height": 113, "data": {"name": "b_ari"}, "mark": "line", "encoding": {
    "x": {"field": "t", "type": "quantitative", "scale": {"domain": [0, 89.2], "nice": false, "zero": false}, "axis": {"values": [20, 40, 60, 80], "format": "d", "title": "Time (s)"}},
    "y": {"field": "v", "type": "quantitative", "scale": {"domain": [149.5, 189.3], "nice": false, "zero": false}, "axis": {"values": [150, 160, 170, 180], "format": "d", "title": "ARI (ms)", "titlePadding": -1.5}}}},
  {"width": 126, "height": 96, "data": {"values": [{"label": "← ARI →"}]}, "mark": {"type": "text", "fontSize": 24}, "encoding": {"text": {"field": "label"}}},
  {"width": 289, "height": 113.7, "data": {"name": "b_ari_psd"}, "mark": "line", "encoding": {
    "x": {"field": "f", "type": "quantitative", "scale": {"domain": [0, 0.7], "nice": false}, "axis": {"values": [0, 0.2, 0.4, 0.6], "format": "~g", "title": "Frequency (Hz)"}},
    "y": {"field": "p", "type": "quantitative", "scale": {"domain": [0, 80], "nice": false}, "axis": {"values": [0, 20, 40, 60, 80], "format": "d", "title": "PSD (ms²/Hz)", "titlePadding": 2.8}}}},
  {"width": 290, "height": 113.8, "data": {"name": "b_sbp"}, "mark": "line", "encoding": {
    "x": {"field": "t", "type": "quantitative", "scale": {"domain": [0, 89.2], "nice": false, "zero": false}, "axis": {"values": [20, 40, 60, 80], "format": "d", "title": "Time (s)"}},
    "y": {"field": "v", "type": "quantitative", "scale": {"domain": [97.3, 122.7], "nice": false, "zero": false}, "axis": {"values": [100, 105, 110, 115, 120], "format": "d", "title": "SBP (mmHg)", "titlePadding": -1}}}},
  {"width": 126, "height": 99, "data": {"values": [{"label": "← SBP →"}]}, "mark": {"type": "text", "fontSize": 24}, "encoding": {"text": {"field": "label"}}},
  {"width": 289, "height": 113.8, "data": {"name": "b_sbp_psd"}, "mark": "line", "encoding": {
    "x": {"field": "f", "type": "quantitative", "scale": {"domain": [0, 0.7], "nice": false}, "axis": {"values": [0, 0.2, 0.4, 0.6], "format": "~g", "title": "Frequency (Hz)"}},
    "y": {"field": "p", "type": "quantitative", "scale": {"domain": [0, 80], "nice": false}, "axis": {"values": [0, 20, 40, 60, 80], "format": "d", "title": "PSD (mmHg²/Hz)", "titlePadding": 7.8}}}}
 ]
}
]
}
